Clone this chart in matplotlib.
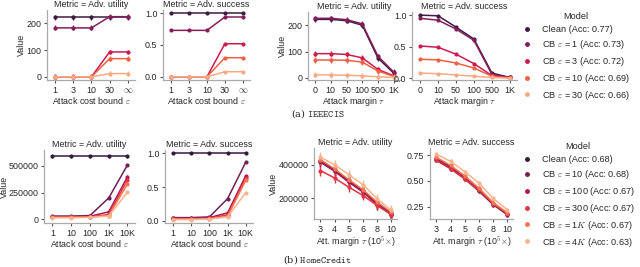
from matplotlib import pyplot as plt
from matplotlib.lines import Line2D
import seaborn as sns
import numpy as np

# ---- data: IEEECIS (top row) ----
ieee_models = ["Clean (Acc: 0.77)",
               r"CB $\varepsilon$ = 1 (Acc: 0.73)",
               r"CB $\varepsilon$ = 3 (Acc: 0.72)",
               r"CB $\varepsilon$ = 10 (Acc: 0.69)",
               r"CB $\varepsilon$ = 30 (Acc: 0.66)"]
ieee_cost_ticks = ["1", "3", "10", "30", r"$\infty$"]
ieee_cost_util = [[222, 222, 222, 222, 222],
                  [183, 183, 183, 225, 225],
                  [0, 0, 0, 93, 93],
                  [0, 0, 0, 68, 68],
                  [0, 0, 0, 12, 12]]
ieee_cost_succ = [[1.0, 1.0, 1.0, 1.0, 1.0],
                  [0.73, 0.73, 0.73, 0.94, 0.94],
                  [0, 0, 0, 0.52, 0.52],
                  [0, 0, 0, 0.30, 0.30],
                  [0, 0, 0, 0.08, 0.08]]
ieee_margin_ticks = ["0", "10", "50", "100", "500", "1K"]
ieee_margin_util = [[222, 222, 217, 200, 75, 18],
                    [226, 226, 221, 205, 82, 22],
                    [92, 92, 89, 76, 32, 8],
                    [68, 68, 67, 60, 26, 6],
                    [12, 11, 10, 8, 4, 2]]
ieee_margin_succ = [[1.0, 0.99, 0.81, 0.62, 0.08, 0.01],
                    [0.95, 0.92, 0.78, 0.60, 0.06, 0.01],
                    [0.51, 0.49, 0.38, 0.23, 0.04, 0.01],
                    [0.30, 0.29, 0.24, 0.16, 0.03, 0.0],
                    [0.08, 0.07, 0.05, 0.03, 0.01, 0.0]]

# ---- data: HomeCredit (bottom row) ----
hc_models = ["Clean (Acc: 0.68)",
             r"CB $\varepsilon$ = 10 (Acc: 0.68)",
             r"CB $\varepsilon$ = 100 (Acc: 0.67)",
             r"CB $\varepsilon$ = 300 (Acc: 0.67)",
             r"CB $\varepsilon$ = 1$K$ (Acc: 0.67)",
             r"CB $\varepsilon$ = 4$K$ (Acc: 0.63)"]
hc_cost_ticks = ["1", "10", "100", "1K", "10K"]
hc_cost_util = [[590000, 590000, 590000, 590000, 590000],
                [30000, 30000, 35000, 200000, 510000],
                [25000, 25000, 28000, 70000, 400000],
                [20000, 20000, 22000, 45000, 370000],
                [18000, 18000, 20000, 35000, 330000],
                [15000, 15000, 18000, 30000, 255000]]
hc_cost_succ = [[1.0, 1.0, 1.0, 1.0, 1.0],
                [0.05, 0.05, 0.06, 0.33, 0.87],
                [0.04, 0.04, 0.05, 0.12, 0.67],
                [0.03, 0.03, 0.04, 0.09, 0.63],
                [0.03, 0.03, 0.03, 0.07, 0.60],
                [0.02, 0.02, 0.03, 0.06, 0.42]]
hc_margin_ticks = ["3", "4", "5", "6", "8", "10"]
hc_margin_util = [[425000, 370000, 305000, 245000, 170000, 110000],
                  [420000, 365000, 300000, 240000, 165000, 105000],
                  [415000, 360000, 295000, 235000, 160000, 100000],
                  [365000, 320000, 265000, 215000, 155000, 100000],
                  [430000, 375000, 310000, 250000, 175000, 115000],
                  [445000, 400000, 340000, 280000, 195000, 125000]]
hc_margin_succ = [[0.71, 0.63, 0.53, 0.41, 0.28, 0.18],
                  [0.70, 0.62, 0.52, 0.40, 0.27, 0.17],
                  [0.72, 0.64, 0.53, 0.42, 0.28, 0.18],
                  [0.70, 0.62, 0.52, 0.41, 0.28, 0.18],
                  [0.73, 0.65, 0.55, 0.43, 0.29, 0.19],
                  [0.76, 0.69, 0.59, 0.48, 0.33, 0.22]]

sns.set_style("ticks")
plt.rcParams['font.family'] = ['Liberation Sans', 'DejaVu Sans']
plt.rcParams['mathtext.fontset'] = 'cm'
FS = 6.4

fig = plt.figure(figsize=(6.4, 2.67), dpi=100)
W, H = 640.0, 267.0


def px_axes(x0, x1, y0, y1):
    return fig.add_axes([x0 / W, 1 - y1 / H, (x1 - x0) / W, (y1 - y0) / H])


def panel(ax, data, ticks, colors, title, xlabel, ylabel, err, ylim, yticks, yticklabels=None):
    x = np.arange(len(ticks))
    for vals, c in zip(data, colors):
        ax.errorbar(x, vals, yerr=err, color=c, marker='o', ms=2, lw=1.1,
                    elinewidth=1.0, capsize=0)
    ax.set_xticks(x)
    ax.set_xticklabels(ticks)
    ax.set_xlim(-0.45, len(ticks) - 0.6)
    ax.set_ylim(*ylim)
    ax.set_yticks(yticks)
    if yticklabels is not None:
        ax.set_yticklabels(yticklabels)
    ax.set_title(title, fontsize=FS, pad=2)
    ax.set_xlabel(xlabel, fontsize=FS, labelpad=0.5)
    if ylabel:
        ax.set_ylabel(ylabel, fontsize=FS, labelpad=0.5)
    ax.tick_params(labelsize=FS, length=2.5, width=0.8, pad=1.5, color='#555555')
    for s in ['top', 'right']:
        ax.spines[s].set_visible(False)
    for s in ['left', 'bottom']:
        ax.spines[s].set_color('#aaaaaa')
        ax.spines[s].set_linewidth(0.9)


top_colors = sns.color_palette("rocket", len(ieee_models))
bot_colors = sns.color_palette("rocket", len(hc_models))

cost_lbl = r"Attack cost bound $\varepsilon$"
marg_lbl = r"Attack margin $\tau$"
att_lbl = r"Att. margin $\tau$ (10$^5$$\times$)"
t_util = "Metric = Adv. utility"
t_succ = "Metric = Adv. success"

a = px_axes(47, 135, 10, 80)
panel(a, ieee_cost_util, ieee_cost_ticks, top_colors, t_util, cost_lbl, "Value",
      9, (-12, 250), [0, 100, 200])
a = px_axes(163, 250, 10, 80)
panel(a, ieee_cost_succ, ieee_cost_ticks, top_colors, t_succ, cost_lbl, None,
      0.01, (-0.05, 1.05), [0.0, 0.5, 1.0])
a = px_axes(308, 400, 12, 80)
panel(a, ieee_margin_util, ieee_margin_ticks, top_colors, t_util, marg_lbl, "Value",
      10, (-8, 250), [0, 100, 200])
a = px_axes(412, 517, 12, 80)
panel(a, ieee_margin_succ, ieee_margin_ticks, top_colors, t_succ, marg_lbl, None,
      0.01, (-0.03, 1.05), [0.0, 0.5, 1.0])

a = px_axes(44, 135, 150, 223)
panel(a, hc_cost_util, hc_cost_ticks, bot_colors, t_util, cost_lbl, "Value",
      12000, (-35000, 650000), [0, 250000, 500000])
a.yaxis.set_label_coords(-(44 - 9) / 91.0, 0.5)
a = px_axes(165, 253, 150, 223)
panel(a, hc_cost_succ, hc_cost_ticks, bot_colors, t_succ, cost_lbl, None,
      0.01, (-0.03, 1.05), [0.0, 0.5, 1.0])
a = px_axes(314, 397, 148, 219)
panel(a, hc_margin_util, hc_margin_ticks, bot_colors, t_util, att_lbl, "Value",
      30000, (74000, 500000), [200000, 400000])
a = px_axes(430, 513, 148, 219)
panel(a, hc_margin_succ, hc_margin_ticks, bot_colors, t_succ, att_lbl, None,
      0.02, (0.13, 0.82), [0.25, 0.50, 0.75], ["0.25", "0.50", "0.75"])

for models, colors, ytop in [(ieee_models, top_colors, 6), (hc_models, bot_colors, 136)]:
    handles = [Line2D([], [], ls='none', marker='o', ms=2.5, color=c) for c in colors]
    leg = fig.legend(handles, models, title="Model", loc='upper left',
                     bbox_to_anchor=(515 / W, 1 - ytop / H), frameon=False,
                     fontsize=FS + 0.2, title_fontsize=FS + 0.2, handlelength=1.2,
                     handletextpad=1.0, labelspacing=0.42, borderpad=0.2)

fig.text(318 / W, 1 - 114 / H, r"(a) $\mathtt{IEEECIS}$", ha='center', va='center',
         fontsize=7, family='DejaVu Serif')
fig.text(318 / W, 1 - 260 / H, r"(b) $\mathtt{HomeCredit}$", ha='center', va='center',
         fontsize=7, family='DejaVu Serif')

plt.savefig('out.png', dpi=100)
